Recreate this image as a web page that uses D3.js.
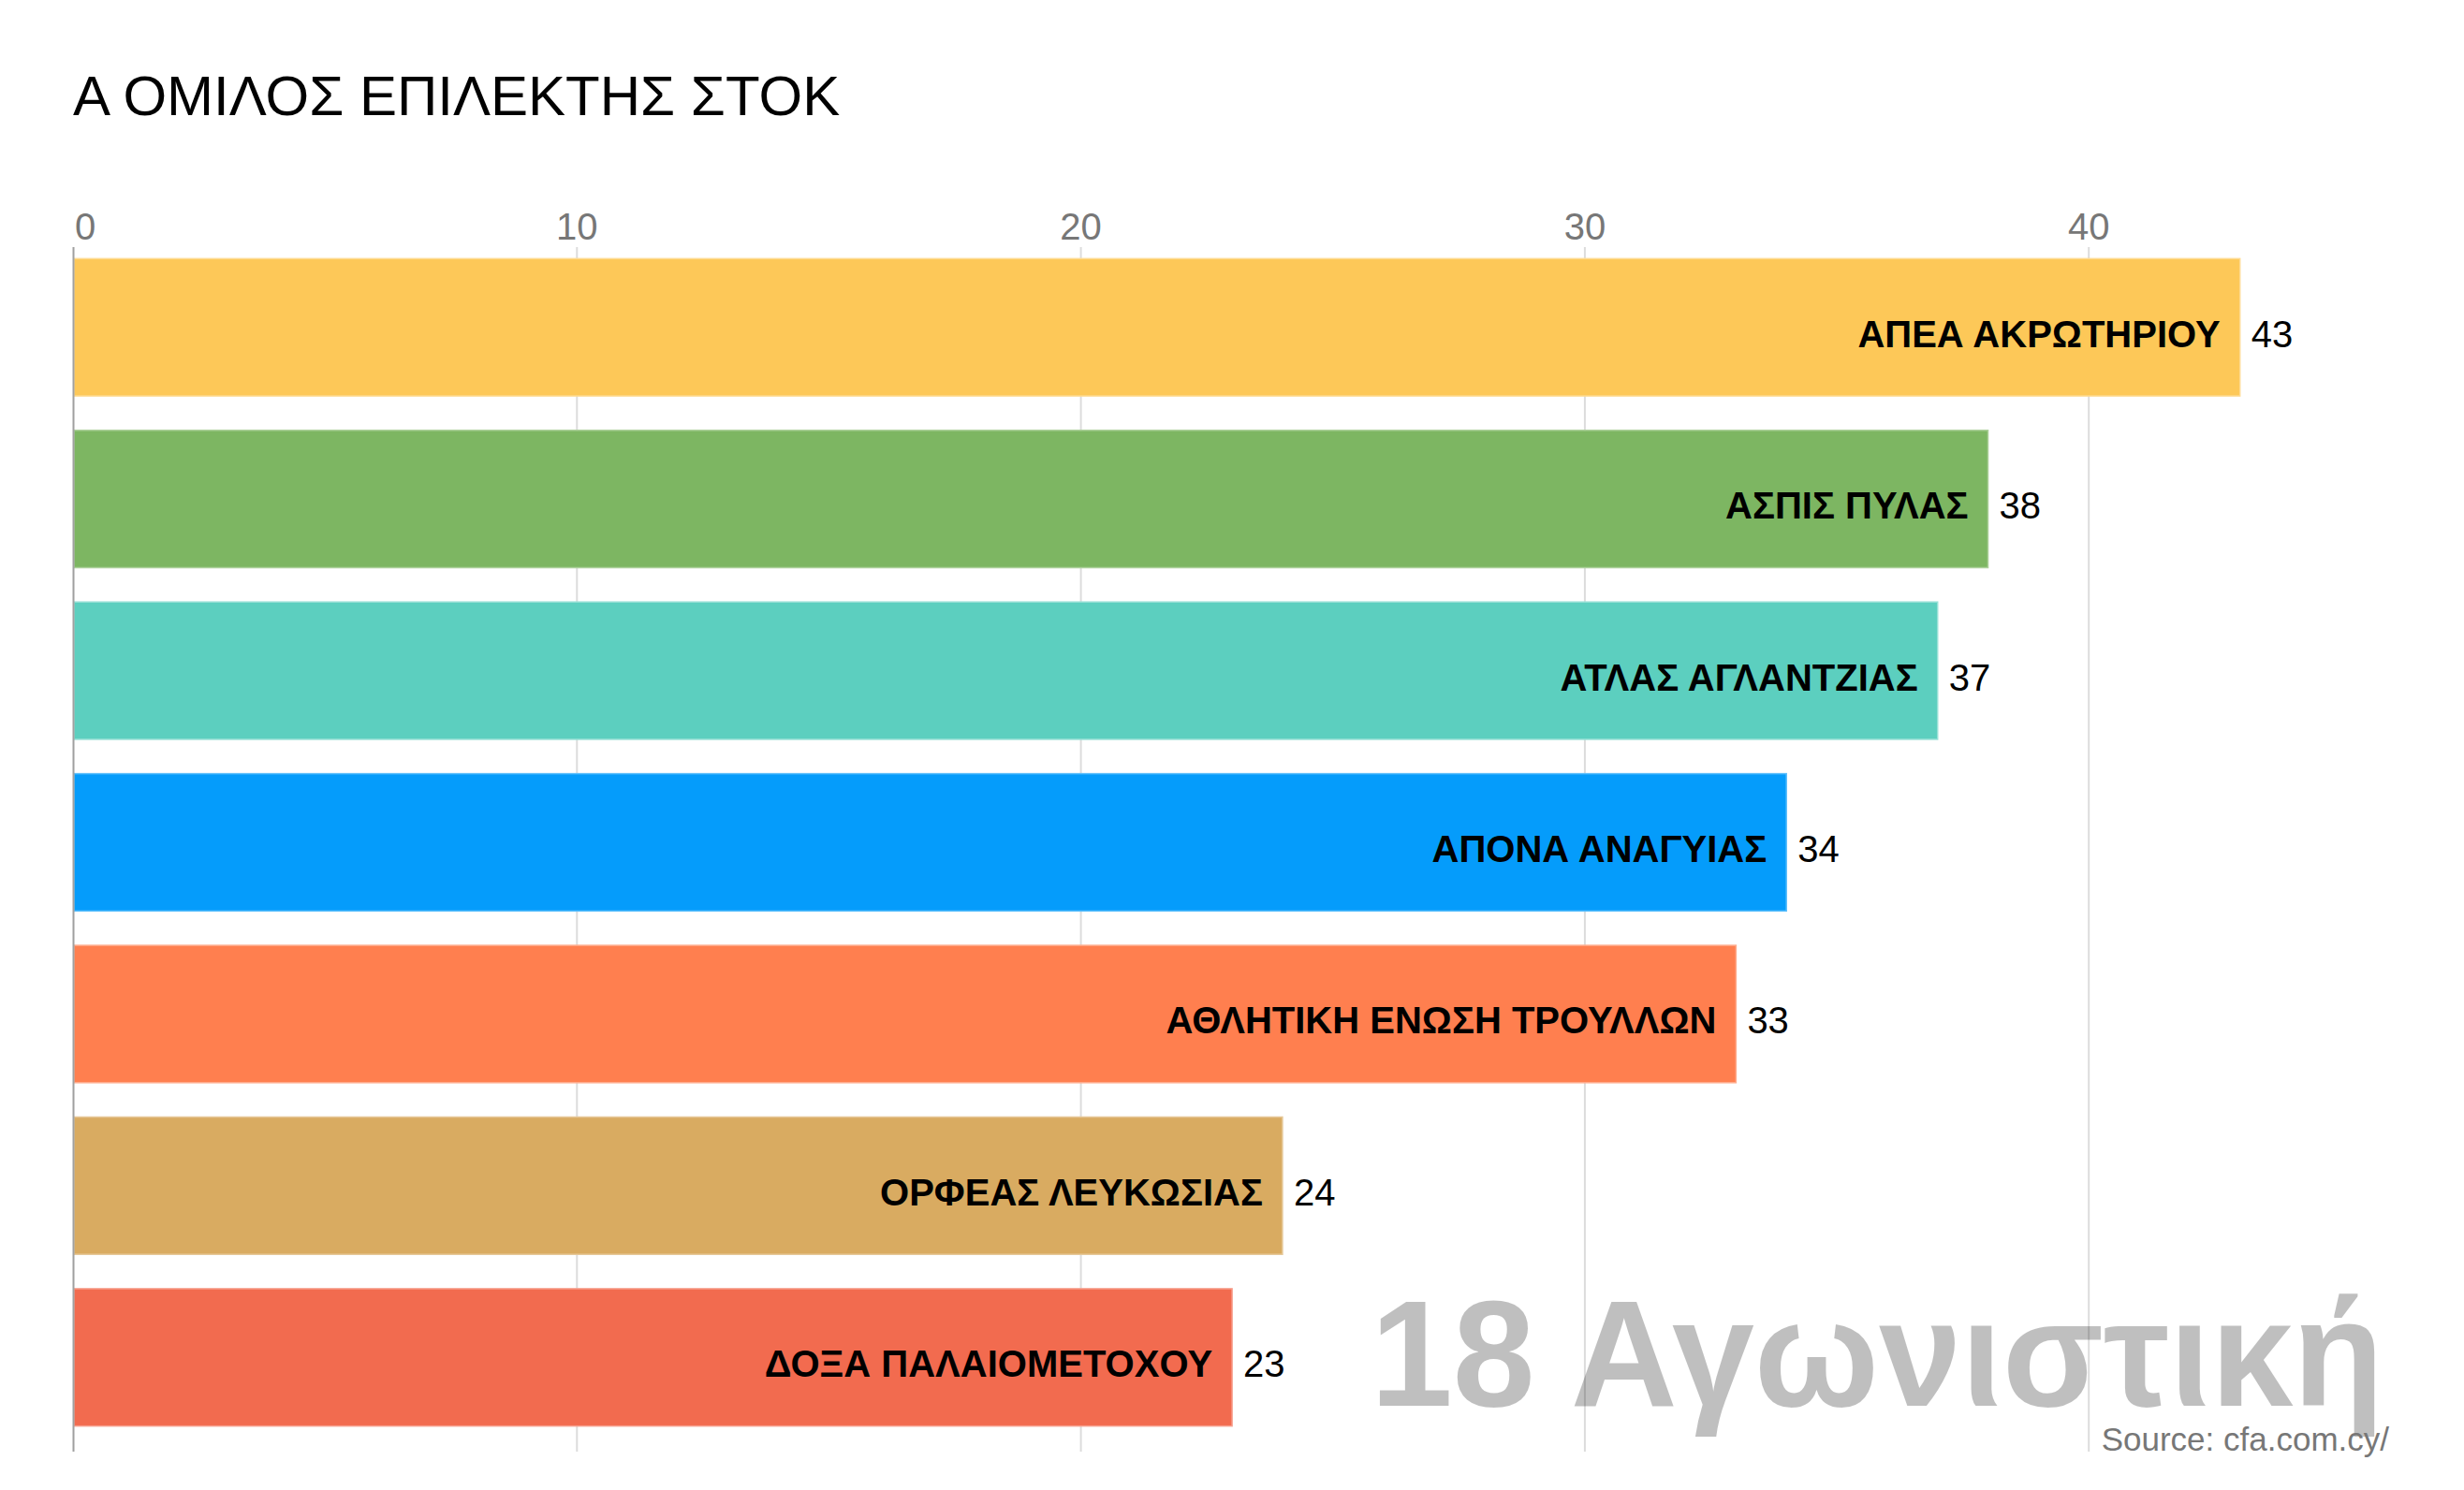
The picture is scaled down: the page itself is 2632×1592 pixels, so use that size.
<!DOCTYPE html>
<html>
<head>
<meta charset="utf-8">
<script src="https://cdn.jsdelivr.net/npm/d3@7"></script>
<style>
html,body{margin:0;padding:0;background:#fff;}
svg{display:block;font-family:"Liberation Sans",Arial,sans-serif;}
</style>
</head>
<body>
<svg id="chart" width="2632" height="1592"></svg>
<script>
const title = "Α ΟΜΙΛΟΣ ΕΠΙΛΕΚΤΗΣ ΣΤΟΚ";
const teams = ["ΑΠΕΑ ΑΚΡΩΤΗΡΙΟΥ","ΑΣΠΙΣ ΠΥΛΑΣ","ΑΤΛΑΣ ΑΓΛΑΝΤΖΙΑΣ","ΑΠΟΝΑ ΑΝΑΓΥΙΑΣ","ΑΘΛΗΤΙΚΗ ΕΝΩΣΗ ΤΡΟΥΛΛΩΝ","ΟΡΦΕΑΣ ΛΕΥΚΩΣΙΑΣ","ΔΟΞΑ ΠΑΛΑΙΟΜΕΤΟΧΟΥ"];
const points = [43,38,37,34,33,24,23];
const colors = ["#fdc858","#7db662","#5ccfbf","#059cfb","#ff7f4f","#d9ab61","#f26b4f"];
const tickValues = [0,10,20,30,40];
const watermark = "18 Αγωνιστική";
const source = "Source: cfa.com.cy/";

const svg = d3.select("#chart");
const x = d3.scaleLinear().domain([0,45]).range([78, 78 + 45*53.83]);
const y = d3.scaleBand().domain(teams).range([258,1542]).paddingInner(0.2).paddingOuter(0.1);
const gridTop = 264, gridBottom = 1551;

// title
svg.append("text").attr("x",78).attr("y",123).attr("font-size",60).attr("fill","#000").text(title);

// gridlines
svg.append("g").selectAll("line").data(tickValues.filter(d=>d>0)).join("line")
  .attr("x1",d=>x(d)).attr("x2",d=>x(d)).attr("y1",gridTop).attr("y2",gridBottom)
  .attr("stroke","#dcdcdc").attr("stroke-width",2);

// tick labels
svg.append("g").selectAll("text").data(tickValues).join("text")
  .attr("x",d=>d===0 ? x(d)+2 : x(d)).attr("y",256)
  .attr("text-anchor",d=>d===0?"start":"middle")
  .attr("font-size",40).attr("fill","#777").text(d=>d);

// watermark
svg.append("text").attr("x",2546).attr("y",1502).attr("text-anchor","end")
  .attr("font-size",162).attr("font-weight","bold").attr("fill","#000").attr("fill-opacity",0.25)
  .attr("textLength",1082).attr("lengthAdjust","spacingAndGlyphs")
  .text(watermark);

// bars
svg.append("g").selectAll("rect").data(teams).join("rect")
  .attr("x",x(0)+1).attr("y",d=>y(d)).attr("width",(d,i)=>x(points[i])-x(0)-1).attr("height",y.bandwidth())
  .attr("fill",(d,i)=>colors[i]).attr("stroke",(d,i)=>d3.interpolateRgb(colors[i],"#fff")(0.35)).attr("stroke-width",1.5);

// axis line at 0
svg.append("line").attr("x1",x(0)+0.5).attr("x2",x(0)+0.5).attr("y1",gridTop).attr("y2",gridBottom)
  .attr("stroke","#a0a0a0").attr("stroke-width",2);

// labels inside bars
svg.append("g").selectAll("text").data(teams).join("text")
  .attr("x",(d,i)=>x(points[i])-21).attr("y",d=>y(d)+y.bandwidth()/2+21)
  .attr("text-anchor","end").attr("font-size",40).attr("font-weight","bold").attr("fill","#000")
  .text(d=>d);

// values
svg.append("g").selectAll("text").data(teams).join("text")
  .attr("x",(d,i)=>x(points[i])+12).attr("y",d=>y(d)+y.bandwidth()/2+21)
  .attr("font-size",40).attr("fill","#000")
  .text((d,i)=>points[i]);

// source
svg.append("text").attr("x",2552).attr("y",1550).attr("text-anchor","end")
  .attr("font-size",35).attr("fill","#777").text(source);
</script>
</body>
</html>
